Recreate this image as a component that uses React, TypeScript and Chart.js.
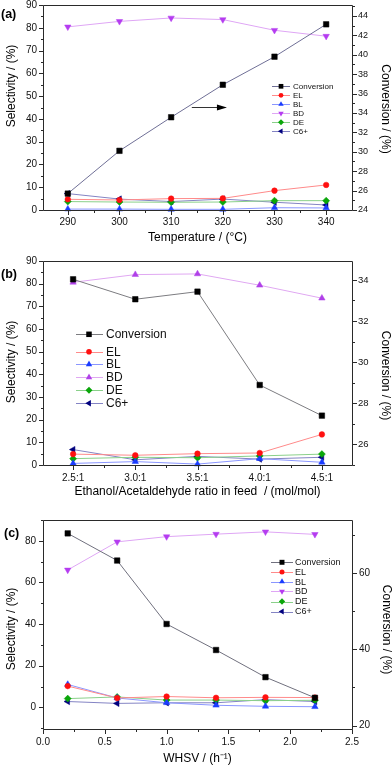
import React, { useEffect, useRef } from 'react';
import { Chart, registerables } from 'chart.js';

Chart.register(...registerables);

const FONT = "'Liberation Sans', Arial, Helvetica, sans-serif";
const AXIS = '#2a2a2a';

// ---------- Panel (a): temperature ----------
const temperatures = [290, 300, 310, 320, 330, 340];
const aConversion = [25.69, 30.1, 33.56, 36.91, 39.8, 43.14];
const aEL = [4.7, 4.4, 5.0, 5.1, 8.5, 11.0];
const aBL = [0.4, 0.4, 0.3, 0.3, 1.0, 0.9];
const aBD = [80.4, 82.8, 84.3, 83.6, 78.9, 76.3];
const aDE = [3.7, 3.5, 3.4, 3.5, 4.1, 4.1];
const aC6 = [7.2, 4.8, 3.7, 4.8, 3.4, 2.2];
const aXTicks = [290, 295, 300, 305, 310, 315, 320, 325, 330, 335, 340];
const aYTicks = [0, 5, 10, 15, 20, 25, 30, 35, 40, 45, 50, 55, 60, 65, 70, 75, 80, 85, 90];
const aY1Ticks = [24, 25, 26, 27, 28, 29, 30, 31, 32, 33, 34, 35, 36, 37, 38, 39, 40, 41, 42, 43, 44, 45];
const aArrow = { from: 314, to: 320.8, y: 45.2 };

// ---------- Panel (b): ethanol / acetaldehyde ratio ----------
const ratios = [2.5, 3.0, 3.5, 4.0, 4.5];
const bConversion = [34.03, 33.06, 33.43, 28.89, 27.4];
const bEL = [4.8, 4.3, 5.0, 5.3, 13.5];
const bBL = [0.7, 1.5, 0.4, 2.8, 1.2];
const bBD = [80.6, 84.0, 84.3, 79.3, 73.6];
const bDE = [2.8, 3.4, 3.2, 4.0, 4.8];
const bC6 = [6.8, 2.3, 3.8, 2.6, 3.4];
const bXTicks = [2.5, 2.75, 3.0, 3.25, 3.5, 3.75, 4.0, 4.25, 4.5];
const bYTicks = [0, 5, 10, 15, 20, 25, 30, 35, 40, 45, 50, 55, 60, 65, 70, 75, 80, 85, 90];
const bY1Ticks = [25, 26, 27, 28, 29, 30, 31, 32, 33, 34];

// ---------- Panel (c): WHSV ----------
const whsv = [0.2, 0.6, 1.0, 1.4, 1.8, 2.2];
const cConversion = [70.3, 63.2, 46.6, 39.8, 32.7, 27.3];
const cEL = [10.2, 4.5, 5.2, 4.6, 4.8, 4.7];
const cBL = [11.0, 4.5, 2.2, 1.0, 0.5, 0.3];
const cBD = [66.0, 79.5, 82.0, 83.2, 84.3, 83.1];
const cDE = [4.2, 5.0, 3.5, 3.5, 3.2, 3.4];
const cC6 = [2.8, 1.9, 2.2, 2.2, 3.7, 2.8];
const cXTicks = [0, 0.25, 0.5, 0.75, 1.0, 1.25, 1.5, 1.75, 2.0, 2.25, 2.5];
const cYTicks = [-10, 0, 10, 20, 30, 40, 50, 60, 70, 80, 90];
const cY1Ticks = [20, 30, 40, 50, 60, 70];

type Style = { style: string; rot: number; r: number; marker: string; line: string };
type Series = Style & { label: string; data: number[]; axis: 'y' | 'y1' };

const CONV = (line: string): Style => ({ style: 'rect', rot: 0, r: 3.9, marker: '#000000', line });
const EL: Style = { style: 'circle', rot: 0, r: 2.8, marker: '#ff1010', line: '#ff8a8a' };
const BL: Style = { style: 'triangle', rot: 0, r: 3.7, marker: '#1a3cff', line: '#8a96ff' };
const BD_DOWN: Style = { style: 'triangle', rot: 180, r: 3.7, marker: '#b53cf0', line: '#dfa6f5' };
const BD_UP: Style = { style: 'triangle', rot: 0, r: 3.7, marker: '#b040e8', line: '#e0a8f2' };
const DE: Style = { style: 'rectRot', rot: 0, r: 3.5, marker: '#0aa60a', line: '#8ad08a' };
const C6: Style = { style: 'triangle', rot: 270, r: 3.7, marker: '#00007e', line: '#8484c4' };

const mk = (label: string, data: number[], axis: 'y' | 'y1', st: Style): Series => ({ label, data, axis, ...st });

type Panel = {
  top: number;
  height: number;
  padTop: number;
  xHeight: number;
  tag: string;
  tagPos: [number, number];
  xs: number[];
  series: Series[];
  x: { min: number; max: number; ticks: number[]; major: (v: number) => boolean; fmt: (v: number) => string; title: string; titlePad: number; labelPad: number };
  y: { min: number; max: number; ticks: number[]; major: (v: number) => boolean; labelPad: number };
  y1: { min: number; max: number; ticks: number[]; major: (v: number) => boolean; labelPad: number; font: number };
  leftTitle: [number, number];
  rightTitle: [number, number];
  legend: { x0: number; x1: number; mx: number; tx: number; rows: number[]; font: number; scale: number };
  arrow?: { from: number; to: number; y: number };
};

const isInt = (v: number, step: number) => Math.abs(v / step - Math.round(v / step)) < 1e-6;

const panels: Panel[] = [
  {
    top: 0, height: 250, padTop: 5, xHeight: 40, tag: '(a)', tagPos: [1, 15],
    xs: temperatures,
    series: [
      mk('Conversion', aConversion, 'y1', CONV('#6f6f96')),
      mk('EL', aEL, 'y', EL), mk('BL', aBL, 'y', BL), mk('BD', aBD, 'y', BD_DOWN),
      mk('DE', aDE, 'y', DE), mk('C6+', aC6, 'y', C6),
    ],
    x: { min: 285.2, max: 345, ticks: aXTicks, major: (v) => isInt(v, 10), fmt: (v) => String(v), title: 'Temperature / (\u00B0C)', titlePad: 4.8, labelPad: 6 },
    y: { min: 0, max: 90, ticks: aYTicks, major: (v) => isInt(v, 10), labelPad: 6 },
    y1: { min: 24, max: 45.13, ticks: aY1Ticks, major: (v) => isInt(v, 2), labelPad: 6, font: 9 },
    leftTitle: [12, 86], rightTitle: [385, 109],
    legend: { x0: 272, x1: 290, mx: 281, tx: 293, rows: [86.3, 95.3, 104.3, 113.3, 122.3, 131.3], font: 8, scale: 0.85 },
    arrow: aArrow,
  },
  {
    top: 250, height: 260, padTop: 11, xHeight: 45, tag: '(b)', tagPos: [1, 25],
    xs: ratios,
    series: [
      mk('Conversion', bConversion, 'y1', CONV('#7c7c80')),
      mk('EL', bEL, 'y', EL), mk('BL', bBL, 'y', BL), mk('BD', bBD, 'y', BD_UP),
      mk('DE', bDE, 'y', DE), mk('C6+', bC6, 'y', C6),
    ],
    x: { min: 2.258, max: 4.742, ticks: bXTicks, major: (v) => isInt(v, 0.5), fmt: (v) => v.toFixed(1) + ':1', title: 'Ethanol/Acetaldehyde ratio in feed  / (mol/mol)', titlePad: 10.8, labelPad: 7 },
    y: { min: 0, max: 90, ticks: bYTicks, major: (v) => isInt(v, 10), labelPad: 6 },
    y1: { min: 25, max: 34.92, ticks: bY1Ticks, major: (v) => isInt(v, 2) && v > 25, labelPad: 6, font: 9.5 },
    leftTitle: [12, 112], rightTitle: [385, 125.5],
    legend: { x0: 76, x1: 103, mx: 89, tx: 106, rows: [84.3, 101.7, 114.3, 127.3, 140.2, 153.3], font: 12, scale: 1 },
  },
  {
    top: 510, height: 257, padTop: 10, xHeight: 38, tag: '(c)', tagPos: [4, 23.5],
    xs: whsv,
    series: [
      mk('Conversion', cConversion, 'y1', CONV('#70707e')),
      mk('EL', cEL, 'y', EL), mk('BL', cBL, 'y', BL), mk('BD', cBD, 'y', BD_DOWN),
      mk('DE', cDE, 'y', DE), mk('C6+', cC6, 'y', C6),
    ],
    x: { min: 0, max: 2.5, ticks: cXTicks, major: (v) => isInt(v, 0.5), fmt: (v) => v.toFixed(1), title: 'WHSV / (h\u207B\u00B9)', titlePad: 1.5, labelPad: 7 },
    y: { min: -10.4, max: 90, ticks: cYTicks, major: (v) => isInt(v, 20), labelPad: 7 },
    y1: { min: 19.14, max: 73.8, ticks: cY1Ticks, major: (v) => isInt(v, 20), labelPad: 7, font: 10 },
    leftTitle: [12, 119], rightTitle: [386, 119.5],
    legend: { x0: 271, x1: 293, mx: 282, tx: 295, rows: [52.3, 62, 71.7, 81.3, 91.5, 101.5], font: 9, scale: 0.9 },
  },
];

function drawMarker(ctx: CanvasRenderingContext2D, s: Style, x: number, y: number, r: number) {
  const rad = (s.rot * Math.PI) / 180;
  ctx.beginPath();
  if (s.style === 'circle') {
    ctx.arc(x, y, r, 0, Math.PI * 2);
  } else if (s.style === 'rect') {
    const h = r * Math.SQRT1_2;
    ctx.rect(x - h, y - h, 2 * h, 2 * h);
  } else if (s.style === 'rectRot') {
    ctx.moveTo(x, y - r);
    ctx.lineTo(x + r, y);
    ctx.lineTo(x, y + r);
    ctx.lineTo(x - r, y);
    ctx.closePath();
  } else {
    let a = rad;
    ctx.moveTo(x + Math.sin(a) * r, y - Math.cos(a) * r);
    a += (2 * Math.PI) / 3;
    ctx.lineTo(x + Math.sin(a) * r, y - Math.cos(a) * r);
    a += (2 * Math.PI) / 3;
    ctx.lineTo(x + Math.sin(a) * r, y - Math.cos(a) * r);
    ctx.closePath();
  }
  ctx.fillStyle = s.marker;
  ctx.fill();
}

function decor(p: Panel) {
  return {
    id: 'decor',
    afterDraw(chart: any) {
      const ctx: CanvasRenderingContext2D = chart.ctx;
      const { left, right, top, bottom } = chart.chartArea;
      const L = Math.round(left) + 0.5, R = Math.round(right) + 0.5, T = Math.round(top) + 0.5, B = Math.round(bottom) + 0.5;
      ctx.save();
      // frame
      ctx.strokeStyle = AXIS;
      ctx.lineWidth = 1;
      ctx.beginPath();
      ctx.moveTo(L, T); ctx.lineTo(R, T); ctx.lineTo(R, B); ctx.lineTo(L, B); ctx.closePath();
      ctx.stroke();
      // tick marks
      const xs = chart.scales.x, yl = chart.scales.y, yr = chart.scales.y1;
      ctx.beginPath();
      xs.ticks.forEach((t: any) => {
        const px = Math.round(xs.getPixelForValue(t.value)) + 0.5;
        const len = t.label === '' ? 2.5 : 4.5;
        ctx.moveTo(px, B); ctx.lineTo(px, B + len);
      });
      yl.ticks.forEach((t: any) => {
        const py = Math.round(yl.getPixelForValue(t.value)) + 0.5;
        const len = t.label === '' ? 2.5 : 4.5;
        ctx.moveTo(L, py); ctx.lineTo(L - len, py);
      });
      yr.ticks.forEach((t: any) => {
        const py = Math.round(yr.getPixelForValue(t.value)) + 0.5;
        const len = t.label === '' ? 2.5 : 4.5;
        ctx.moveTo(R, py); ctx.lineTo(R + len, py);
      });
      ctx.stroke();

      // axis titles (y)
      ctx.fillStyle = '#000';
      ctx.font = `12px ${FONT}`;
      ctx.textAlign = 'center';
      ctx.textBaseline = 'middle';
      ctx.save();
      ctx.translate(p.leftTitle[0], p.leftTitle[1]);
      ctx.rotate(-Math.PI / 2);
      ctx.fillText('Selectivity / (%)', 0, 0);
      ctx.restore();
      ctx.save();
      ctx.translate(p.rightTitle[0], p.rightTitle[1]);
      ctx.rotate(Math.PI / 2);
      ctx.fillText('Conversion / (%)', 0, 0);
      ctx.restore();

      // panel tag
      ctx.font = `bold 12.5px ${FONT}`;
      ctx.textAlign = 'left';
      ctx.fillText(p.tag, p.tagPos[0], p.tagPos[1]);

      // arrow
      if (p.arrow) {
        const x0 = xs.getPixelForValue(p.arrow.from);
        const x1 = xs.getPixelForValue(p.arrow.to);
        const y = Math.round(yl.getPixelForValue(p.arrow.y)) + 0.5;
        ctx.strokeStyle = '#333';
        ctx.beginPath();
        ctx.moveTo(x0, y); ctx.lineTo(x1 - 9, y);
        ctx.stroke();
        ctx.fillStyle = '#000';
        ctx.beginPath();
        ctx.moveTo(x1, y); ctx.lineTo(x1 - 10, y - 3); ctx.lineTo(x1 - 10, y + 3); ctx.closePath();
        ctx.fill();
      }

      // legend
      const lg = p.legend;
      ctx.font = `${lg.font}px ${FONT}`;
      ctx.textBaseline = 'middle';
      ctx.textAlign = 'left';
      p.series.forEach((s, i) => {
        const y = lg.rows[i];
        ctx.strokeStyle = s.line;
        ctx.lineWidth = 1;
        ctx.beginPath();
        ctx.moveTo(lg.x0, Math.round(y) + 0.5); ctx.lineTo(lg.x1, Math.round(y) + 0.5);
        ctx.stroke();
        drawMarker(ctx, s, lg.mx, y, s.r * lg.scale);
        ctx.fillStyle = '#111';
        ctx.fillText(s.label, lg.tx, y + 0.5);
      });
      ctx.restore();
    },
  };
}

function buildConfig(p: Panel): any {
  const datasets = p.series.map((s) => ({
    label: s.label,
    data: p.xs.map((x, i) => ({ x, y: s.data[i] })),
    yAxisID: s.axis,
    borderColor: s.line,
    borderWidth: 1,
    backgroundColor: s.marker,
    pointStyle: s.style,
    pointRotation: s.rot,
    pointRadius: s.r,
    pointHoverRadius: s.r,
    pointBackgroundColor: s.marker,
    pointBorderColor: s.marker,
    pointBorderWidth: 0.5,
    tension: 0,
    fill: false,
    clip: false,
  }));
  const tickFont = { family: FONT, size: 10 };
  return {
    type: 'line',
    data: { datasets },
    plugins: [decor(p)],
    options: {
      responsive: false,
      animation: false,
      events: [],
      layout: { padding: { top: p.padTop, left: 0, right: 0, bottom: 0 } },
      plugins: { legend: { display: false }, tooltip: { enabled: false } },
      scales: {
        x: {
          type: 'linear',
          min: p.x.min,
          max: p.x.max,
          afterBuildTicks: (s: any) => { s.ticks = p.x.ticks.map((v) => ({ value: v })); },
          afterFit: (s: any) => { s.height = p.xHeight; s.paddingLeft = 0; s.paddingRight = 0; },
          grid: { display: false, drawTicks: false },
          border: { display: false },
          ticks: {
            autoSkip: false, maxRotation: 0, minRotation: 0, padding: p.x.labelPad, color: '#111', font: tickFont,
            callback: (v: number) => (p.x.major(v) ? p.x.fmt(v) : ''),
          },
          title: { display: true, text: p.x.title, color: '#000', font: { family: FONT, size: 12 }, padding: { top: 0, bottom: p.x.titlePad } },
        },
        y: {
          type: 'linear',
          position: 'left',
          min: p.y.min,
          max: p.y.max,
          afterBuildTicks: (s: any) => { s.ticks = p.y.ticks.map((v) => ({ value: v })); },
          afterFit: (s: any) => { s.width = 43; s.paddingTop = 0; s.paddingBottom = 0; },
          grid: { display: false, drawTicks: false },
          border: { display: false },
          ticks: {
            autoSkip: false, padding: p.y.labelPad, color: '#111', font: tickFont,
            callback: (v: number) => (p.y.major(v) ? String(v) : ''),
          },
        },
        y1: {
          type: 'linear',
          position: 'right',
          min: p.y1.min,
          max: p.y1.max,
          afterBuildTicks: (s: any) => { s.ticks = p.y1.ticks.map((v) => ({ value: v })); },
          afterFit: (s: any) => { s.width = 40; s.paddingTop = 0; s.paddingBottom = 0; },
          grid: { display: false, drawTicks: false },
          border: { display: false },
          ticks: {
            autoSkip: false, padding: p.y1.labelPad, color: '#111', font: { family: FONT, size: p.y1.font },
            callback: (v: number) => (p.y1.major(v) ? String(v) : ''),
          },
        },
      },
    },
  };
}

function PanelChart({ p }: { p: Panel }) {
  const ref = useRef<HTMLCanvasElement>(null);
  useEffect(() => {
    if (!ref.current) return;
    const chart = new Chart(ref.current, buildConfig(p));
    return () => chart.destroy();
  }, [p]);
  return (
    <canvas
      ref={ref}
      width={392}
      height={p.height}
      style={{ position: 'absolute', left: 0, top: p.top, width: 392, height: p.height, display: 'block' }}
    />
  );
}

export default function App() {
  return (
    <div style={{ position: 'absolute', left: 0, top: 0, width: 392, height: 767, background: '#ffffff', overflow: 'hidden' }}>
      {panels.map((p) => (
        <PanelChart key={p.tag} p={p} />
      ))}
    </div>
  );
}
